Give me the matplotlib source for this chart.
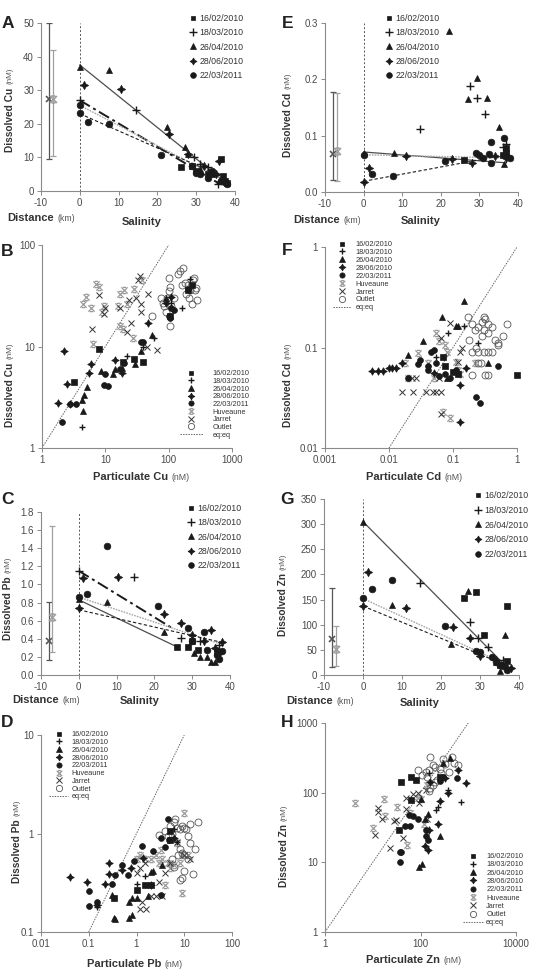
import numpy as np
import matplotlib
matplotlib.use('Agg')
import matplotlib.pyplot as plt
from matplotlib.lines import Line2D
from matplotlib.path import Path
from matplotlib.ticker import FixedLocator, FuncFormatter, NullLocator

plt.rcParams['font.family'] = ['Liberation Sans', 'DejaVu Sans']
plt.rcParams['axes.unicode_minus'] = False

W, H = 533, 971

# ---------------- data ----------------
dates = ['16/02/2010', '18/03/2010', '26/04/2010', '28/06/2010', '22/03/2011']
sources = ['Huveaune', 'Jarret', 'Outlet']

# Panel A : dissolved Cu vs salinity
A_s1 = [(26, 7), (29, 7.5), (30, 6), (33, 5), (36.5, 9.5), (37, 4.5), (37.5, 3), (38, 2.5)]
A_s2 = [(0, 27), (14.5, 24), (29.5, 10), (31, 8), (33, 7), (34.5, 5.5), (35.5, 2), (37, 3)]
A_s3 = [(0, 37), (7.5, 36), (22.5, 19), (27, 13), (28, 11), (31, 6.5), (34, 5), (36, 3)]
A_s4 = [(1.2, 31.5), (10.5, 30.5), (23, 17), (28, 11), (32, 7.5), (35, 5), (36, 9), (37, 3)]
A_s5 = [(0, 23.2), (0, 25.5), (2.2, 20.6), (7.5, 19.8), (21, 10.8), (29, 7.5), (30, 5.5), (31, 5),
        (33, 4), (34, 6), (36.5, 3), (38, 2)]
A_err_x = [-8, -7]
A_err_mean = [27.5, 27.5]
A_err_lo = [9.5, 10.5]
A_err_hi = [50, 42]
A_fit_b0 = [37.5, 27, 25.5, 23]
A_fit_b1 = [-0.93, -0.69, -0.6, -0.51]
A_fit_xmax = [37, 36, 38, 37]

# Panel E : dissolved Cd vs salinity
E_s1 = [(26, 0.056), (36, 0.065), (37, 0.078), (37, 0.07)]
E_s2 = [(14.5, 0.111), (27.5, 0.188), (29.5, 0.167), (31.5, 0.138), (36, 0.08), (37, 0.085)]
E_s3 = [(0, 0.07), (8, 0.07), (22, 0.286), (27, 0.165), (29.5, 0.202), (32, 0.166), (35, 0.115), (36.5, 0.05)]
E_s4 = [(0, 0.018), (1.3, 0.042), (11, 0.064), (23, 0.059), (28, 0.052), (34, 0.064), (37, 0.06)]
E_s5 = [(0, 0.065), (2.3, 0.032), (7.5, 0.029), (21, 0.055), (29, 0.07), (30, 0.065), (31, 0.06),
        (32.5, 0.068), (33, 0.088), (33, 0.052), (36.5, 0.095), (37, 0.065), (38, 0.06)]
E_err_x = [-8, -7]
E_err_mean = [0.067, 0.073]
E_err_lo = [0.022, 0.02]
E_err_hi = [0.178, 0.176]
E_fit_b0 = [0.071, 0.066, 0.019]
E_fit_b1 = [-0.00052, -0.00015, 0.00127]
E_fit_xmax = [37, 38, 37]

# Panel C : dissolved Pb vs salinity
C_s1 = [(26, 0.31), (29, 0.31), (30, 0.37), (31.5, 0.28), (36.5, 0.25)]
C_s2 = [(0, 1.15), (14.5, 1.08), (27, 0.41), (32, 0.38), (37, 0.33)]
C_s3 = [(0, 0.84), (7.5, 0.81), (22.5, 0.48), (30.5, 0.24), (32, 0.2), (34, 0.2), (35, 0.14), (36, 0.14)]
C_s4 = [(0, 0.74), (1.2, 1.07), (10.5, 1.08), (22.5, 0.67), (27, 0.57), (30, 0.44), (33, 0.38),
        (35, 0.5), (36, 0.3), (38, 0.36)]
C_s5 = [(0, 0.86), (2.2, 0.9), (7.5, 1.43), (21, 0.76), (29, 0.52), (30, 0.38), (33, 0.48), (34, 0.28),
        (36.5, 0.22), (37, 0.18), (37, 0.25), (38, 0.27)]
C_err_x = [-8, -7]
C_err_mean = [0.37, 0.64]
C_err_lo = [0.17, 0.25]
C_err_hi = [0.81, 1.64]
C_fit_b0 = [1.15, 0.83, 0.86, 0.72]
C_fit_b1 = [-0.0256, -0.02, -0.0138, -0.0095]
C_fit_xmax = [25, 26, 37, 38]

# Panel G : dissolved Zn vs salinity
G_s1 = [(26, 153), (29, 165), (31, 80), (35, 20), (37, 138), (37, 28)]
G_s2 = [(14.5, 182), (27.5, 105), (29.5, 73), (32, 55), (36, 30), (37, 15)]
G_s3 = [(0, 305), (7.5, 140), (22.5, 62), (27, 167), (34, 25), (35, 8), (36.5, 80)]
G_s4 = [(0, 137), (1.3, 205), (11, 134), (23, 95), (27.5, 74), (30, 38), (34, 30), (37, 13), (38, 14)]
G_s5 = [(0, 154), (2.3, 171), (7.5, 188), (21, 98), (29, 48), (30, 45), (33, 35), (34, 25), (35, 20),
        (36, 18), (37, 10)]
G_err_x = [-8, -7]
G_err_mean = [72, 52]
G_err_lo = [15, 17]
G_err_hi = [174, 97]
G_fit_b0 = [305, 152, 137]
G_fit_b1 = [-7.84, -3.57, -3.2]
G_fit_xmax = [37, 37, 37]

# Panel B : dissolved vs particulate Cu
B_s1 = [(3.2, 4.5), (8, 9.5), (19, 7), (28, 7.5), (40, 7), (105, 20), (200, 36), (230, 40)]
B_s2 = [(4.3, 1.6), (22, 8), (40, 10), (58, 12), (110, 27), (160, 24), (220, 46)]
B_s3 = [(4.3, 3.0), (4.5, 2.3), (4.6, 3.3), (5.2, 4), (8.5, 5.8), (13, 5.4), (14, 6), (18, 6.1),
        (29, 6.7), (37, 9), (55, 13), (90, 30)]
B_s4 = [(1.8, 2.8), (2.2, 9), (2.5, 4.3), (2.8, 2.7), (5.5, 5.5), (6, 6.7), (14, 7.4), (18, 5.5),
        (48, 17), (90, 27), (110, 31)]
B_s5 = [(2.1, 1.8), (2.8, 2.7), (3.4, 2.7), (9.5, 4.2), (10, 5.4), (11, 4.1), (17, 6), (20, 6.9),
        (36, 11), (40, 11), (100, 20), (105, 19), (110, 24), (120, 23), (200, 37)]
B_hu = [(4.5, 26), (5, 31), (6, 24), (6.5, 10.5), (7, 41), (8, 39), (9, 22), (9.5, 25), (16, 25),
        (17, 33), (17, 16), (19, 15), (20, 36), (22, 26), (27, 12), (28, 37), (38, 45)]
B_ja = [(6.2, 14.8), (8, 32), (9.5, 21), (10, 24), (17, 24), (22, 14), (24, 29), (25, 17), (30, 30),
        (33, 45), (35, 49), (36, 26), (36, 22), (45, 10), (47, 33), (65, 9.3)]
B_ou = [(55, 20), (75, 30), (80, 27), (85, 25), (90, 22), (95, 30), (100, 35), (105, 39), (100, 47),
        (105, 16), (110, 25), (120, 30), (140, 52), (150, 56), (170, 60), (160, 40), (180, 42),
        (190, 33), (200, 40), (210, 30), (220, 36), (230, 26), (240, 45), (250, 47), (260, 36),
        (270, 38), (280, 29)]

# Panel F : dissolved vs particulate Cd
F_s1 = [(0.07, 0.08), (0.075, 0.065), (0.1, 0.057), (0.12, 0.055), (1.0, 0.053)]
F_s2 = [(0.055, 0.08), (0.085, 0.14), (0.15, 0.165), (0.25, 0.11)]
F_s3 = [(0.02, 0.085), (0.034, 0.115), (0.068, 0.2), (0.11, 0.165), (0.12, 0.165), (0.15, 0.29),
        (0.08, 0.05), (0.35, 0.07)]
F_s4 = [(0.0055, 0.058), (0.0068, 0.058), (0.0081, 0.058), (0.01, 0.063), (0.011, 0.063),
        (0.013, 0.063), (0.016, 0.07), (0.05, 0.056), (0.13, 0.042), (0.13, 0.018), (0.16, 0.063)]
F_s5 = [(0.02, 0.05), (0.028, 0.068), (0.03, 0.075), (0.04, 0.06), (0.04, 0.065), (0.045, 0.09),
        (0.05, 0.095), (0.055, 0.07), (0.06, 0.052), (0.075, 0.055), (0.09, 0.05), (0.11, 0.06),
        (0.23, 0.032), (0.26, 0.028), (0.5, 0.065)]
F_hu = [(0.018, 0.07), (0.02, 0.05), (0.028, 0.088), (0.04, 0.07), (0.05, 0.05), (0.055, 0.14),
        (0.06, 0.115), (0.07, 0.023), (0.075, 0.106), (0.08, 0.09), (0.09, 0.02), (0.11, 0.072),
        (0.12, 0.06), (0.13, 0.055), (0.22, 0.07)]
F_ja = [(0.016, 0.036), (0.023, 0.05), (0.024, 0.036), (0.026, 0.05), (0.038, 0.036), (0.048, 0.036),
        (0.055, 0.036), (0.06, 0.05), (0.065, 0.036), (0.065, 0.125), (0.065, 0.022), (0.09, 0.175),
        (0.12, 0.072), (0.13, 0.09), (0.14, 0.1)]
F_ou = [(0.17, 0.2), (0.18, 0.12), (0.2, 0.17), (0.2, 0.09), (0.2, 0.053), (0.22, 0.15), (0.23, 0.1),
        (0.25, 0.16), (0.25, 0.09), (0.25, 0.07), (0.27, 0.07), (0.28, 0.18), (0.28, 0.13), (0.3, 0.2),
        (0.3, 0.15), (0.3, 0.09), (0.32, 0.19), (0.32, 0.053), (0.35, 0.17), (0.35, 0.14), (0.35, 0.09),
        (0.35, 0.053), (0.4, 0.16), (0.4, 0.09), (0.45, 0.12), (0.5, 0.11), (0.5, 0.105), (0.6, 0.13),
        (0.7, 0.17)]

# Panel D : dissolved vs particulate Pb
D_s1 = [(0.33, 0.22), (1, 0.27), (1.5, 0.3), (2, 0.3), (5, 0.85), (5, 1.05)]
D_s2 = [(0.15, 0.18), (1, 0.31), (1.5, 0.37), (6, 1.1), (7, 0.82)]
D_s3 = [(0.3, 0.24), (0.33, 0.14), (0.35, 0.135), (0.7, 0.2), (0.7, 0.14), (0.8, 0.15), (0.8, 0.22),
        (1, 0.22), (1.7, 0.23), (2, 0.41), (2.2, 0.42), (3.5, 0.48)]
D_s4 = [(0.04, 0.36), (0.09, 0.32), (0.15, 0.19), (0.22, 0.31), (0.27, 0.39), (0.27, 0.5), (0.5, 0.43),
        (0.75, 0.45), (1.4, 0.57), (2, 0.3), (6, 0.9)]
D_s5 = [(0.1, 0.26), (0.1, 0.185), (0.15, 0.2), (0.3, 0.31), (0.35, 0.38), (0.5, 0.48), (0.65, 0.38),
        (0.9, 0.52), (1.3, 0.75), (2.2, 0.67), (3.2, 0.24), (3.3, 0.9), (4, 0.73), (4.5, 1.4), (4.7, 0.86)]
D_hu = [(1, 0.55), (1.2, 0.6), (1.5, 0.55), (2, 0.55), (2.5, 0.6), (3, 0.5), (3.3, 0.68), (3.5, 0.55),
        (4, 0.3), (4.5, 0.5), (5, 0.45), (6, 0.48), (7, 0.8), (8, 0.5), (9, 0.25), (9, 0.62), (10, 1.6),
        (12, 0.6)]
D_ja = [(1, 0.4), (1.2, 0.17), (1.2, 0.45), (1.3, 0.2), (1.5, 0.5), (1.6, 0.17), (2, 0.23), (2.5, 0.23),
        (3, 0.32), (3.5, 0.23), (4, 0.4), (5, 0.5), (7, 0.82), (10, 0.6), (13, 0.55)]
D_ou = [(3, 0.97), (4, 1.05), (4.5, 0.95), (5, 1.2), (5.5, 1.0), (5.5, 0.55), (6, 1.3), (6, 0.46),
        (6.5, 1.4), (7, 1.15), (7.5, 0.6), (8, 1.1), (8, 0.7), (8, 0.34), (9, 1.2), (9, 0.63), (9, 0.35),
        (10, 1.15), (10, 0.6), (10, 0.42), (11, 1.1), (12, 0.95), (12, 0.55), (13, 1.25), (13, 0.8),
        (15, 0.39), (19, 1.3), (17, 0.7)]

# Panel H : dissolved vs particulate Zn
H_s1 = [(36, 29), (40, 140), (63, 167), (64, 79), (82, 153), (255, 170)]
H_s2 = [(150, 190), (215, 57), (235, 62), (380, 108), (710, 73)]
H_s3 = [(94, 8.7), (100, 80), (110, 9.6), (125, 42), (145, 50), (255, 24), (300, 270), (410, 315)]
H_s4 = [(125, 17), (145, 15), (150, 29), (157, 140), (235, 36), (255, 75), (320, 160), (380, 100),
        (610, 215), (900, 137)]
H_s5 = [(37, 14), (40, 14), (38, 10), (47, 33), (58, 48), (60, 33), (70, 46), (90, 42), (130, 24),
        (130, 29), (145, 21), (255, 145), (300, 170), (570, 160)]
H_hu = [(4.3, 71), (10, 31), (17, 82), (18, 46), (32, 62), (53, 18), (60, 51), (90, 85), (100, 80),
        (120, 35), (140, 130)]
H_ja = [(13, 60), (13, 52), (11, 25), (16, 42), (23, 16), (28, 39), (30, 41), (42, 22), (49, 84),
        (50, 58), (70, 95), (90, 100), (95, 72), (130, 110), (140, 42)]
H_ou = [(90, 210), (110, 180), (157, 320), (130, 200), (140, 170), (150, 210), (180, 250), (200, 230),
        (250, 220), (300, 300), (450, 330), (330, 260), (270, 190), (220, 150), (180, 130), (200, 140),
        (160, 115), (150, 105), (400, 200), (500, 270), (600, 250)]

# ---------------- styling ----------------
DARK = '#1a1a1a'
GRAY = '#9a9a9a'
SPINE = '#8a8a8a'
TXT = '#333333'
TICK_TXT = '#4a4a4a'

# x marker with small horizontal serifs (Huveaune)
SERIF_X = Path([(-1, -1), (1, 1), (-1, 1), (1, -1), (-0.55, 1), (0.55, 1), (-0.55, -1), (0.55, -1)],
               [Path.MOVETO, Path.LINETO, Path.MOVETO, Path.LINETO,
                Path.MOVETO, Path.LINETO, Path.MOVETO, Path.LINETO])

date_markers = ['s', '+', '^', (4, 1, 0), 'o']
date_ms_sal = [4.2, 6, 4.8, 6, 4.8]
date_ms_log = [3.8, 5, 4.2, 5.5, 4.2]

fig = plt.figure(figsize=(W / 100, H / 100), dpi=100)


def px_axes(l, r, t, b):
    return fig.add_axes([l / W, 1 - b / H, (r - l) / W, (b - t) / H])


def ftext(x, y, s, **kw):
    return fig.text(x / W, 1 - y / H, s, **kw)


def style_axes(ax):
    for s in ['top', 'right']:
        ax.spines[s].set_visible(False)
    for s in ['left', 'bottom']:
        ax.spines[s].set_color(SPINE)
        ax.spines[s].set_linewidth(0.8)
    ax.tick_params(direction='out', length=3, width=0.7, color=SPINE, labelsize=7,
                   labelcolor=TICK_TXT, pad=2)


def xy(points):
    a = np.array(points, dtype=float)
    return a[:, 0], a[:, 1]


def date_series_plot(ax, series, sizes):
    for pts, mk, ms in zip(series, date_markers, sizes):
        x, y = xy(pts)
        mew = 1.0 if mk == '+' else 0.5
        ax.plot(x, y, linestyle='none', marker=mk, ms=ms, color=DARK, mec=DARK, mew=mew,
                clip_on=False, zorder=4)


fit_styles = {
    'solid': dict(color='#4d4d4d', ls='-', lw=0.9),
    'dashdot': dict(color=DARK, ls=(0, (6, 2, 1.5, 2)), lw=1.4),
    'dotted': dict(color='#a8a8a8', ls=(0, (1.2, 0.8)), lw=1.0),
    'dashed': dict(color=DARK, ls=(0, (3, 2)), lw=0.8),
}


def salinity_panel(ax, series, err_x, err_mean, err_lo, err_hi, b0s, b1s, xmaxs, styles,
                   ylim, yticks, yfmt):
    style_axes(ax)
    ax.set_xlim(-10, 40)
    ax.set_ylim(*ylim)
    ax.xaxis.set_major_locator(FixedLocator([-10, 0, 10, 20, 30, 40]))
    ax.yaxis.set_major_locator(FixedLocator(yticks))
    ax.yaxis.set_major_formatter(FuncFormatter(lambda v, p: yfmt % v))
    ax.axvline(0, color='#555555', ls=(0, (2, 2)), lw=0.7, zorder=1)
    ecols = ['#555555', '#a0a0a0']
    emk = ['x', SERIF_X]
    for xe, m, lo, hi, c, mk in zip(err_x, err_mean, err_lo, err_hi, ecols, emk):
        ax.errorbar([xe], [m], yerr=[[m - lo], [hi - m]], fmt='none', ecolor=c,
                    elinewidth=0.9, capsize=2.5, capthick=0.9, zorder=3)
        ax.plot([xe], [m], ls='none', marker=mk, ms=5, mew=1.2, color=c, mfc='none', zorder=3)
    for b0, b1, xm, st in zip(b0s, b1s, xmaxs, styles):
        xs = np.array([0, xm], dtype=float)
        ax.plot(xs, b0 + b1 * xs, zorder=2, **fit_styles[st])
    date_series_plot(ax, series, date_ms_sal)


def log_panel(ax, series, hu, ja, ou, xlim, ylim, xticks, yticks):
    style_axes(ax)
    ax.set_xscale('log')
    ax.set_yscale('log')
    ax.set_xlim(*xlim)
    ax.set_ylim(*ylim)
    ax.xaxis.set_major_locator(FixedLocator(xticks))
    ax.yaxis.set_major_locator(FixedLocator(yticks))
    ax.xaxis.set_minor_locator(NullLocator())
    ax.yaxis.set_minor_locator(NullLocator())
    fmt = FuncFormatter(lambda v, p: '%g' % v)
    ax.xaxis.set_major_formatter(fmt)
    ax.yaxis.set_major_formatter(fmt)
    lo = max(xlim[0], ylim[0])
    hi = min(xlim[1], ylim[1])
    ax.plot([lo, hi], [lo, hi], color='#666666', ls=(0, (1.5, 1.2)), lw=0.7, zorder=1)
    x, y = xy(hu)
    ax.plot(x, y, ls='none', marker=SERIF_X, ms=4.5, mew=0.9, color=GRAY, mfc='none',
            zorder=3, clip_on=False)
    x, y = xy(ja)
    ax.plot(x, y, ls='none', marker='x', ms=4, mew=0.7, color='#333333', zorder=3, clip_on=False)
    x, y = xy(ou)
    ax.plot(x, y, ls='none', marker='o', ms=5, mew=0.6, mfc='none', mec='#555555', zorder=3,
            clip_on=False)
    date_series_plot(ax, series, date_ms_log)


def legend_sal(ax, left, top, spacing_px):
    handles = []
    for mk, ms in zip(date_markers, date_ms_sal):
        handles.append(Line2D([], [], ls='none', marker=mk, ms=ms * 0.85, color=DARK,
                              mew=1.0 if mk == '+' else 0.5))
    fs = 6.3
    fpx = fs * 100 / 72
    ax.legend(handles, dates, loc='upper left', bbox_to_anchor=(left / W, 1 - top / H),
              bbox_transform=fig.transFigure, frameon=False, borderpad=0, borderaxespad=0,
              handlelength=0.8, handletextpad=0.3, labelspacing=(spacing_px - fpx) / fpx,
              fontsize=fs, labelcolor=TXT)


def legend_log(ax, left, top, spacing_px, handlelen, pad):
    handles = []
    for mk, ms in zip(date_markers, date_ms_log):
        handles.append(Line2D([], [], ls='none', marker=mk, ms=ms * 0.9, color=DARK,
                              mew=1.0 if mk == '+' else 0.5))
    handles.append(Line2D([], [], ls='none', marker=SERIF_X, ms=4, mew=0.9, color=GRAY, mfc='none'))
    handles.append(Line2D([], [], ls='none', marker='x', ms=3.8, mew=0.7, color='#333333'))
    handles.append(Line2D([], [], ls='none', marker='o', ms=4.5, mew=0.6, mfc='none', mec='#555555'))
    handles.append(Line2D([], [], ls=(0, (1.5, 1.2)), lw=0.7, color='#666666'))
    labels = dates + sources + ['eq:eq']
    fs = 5.3
    fpx = fs * 100 / 72
    ax.legend(handles, labels, loc='upper left', bbox_to_anchor=(left / W, 1 - top / H),
              bbox_transform=fig.transFigure, frameon=False, borderpad=0, borderaxespad=0,
              handlelength=handlelen, handletextpad=pad, labelspacing=(spacing_px - fpx) / fpx,
              fontsize=fs, labelcolor=TXT)


def ylab(x, ybold, metal):
    t = ftext(x, ybold, 'Dissolved ' + metal, rotation=90, ha='center', va='bottom',
              weight='bold', size=7.3, color=TXT)
    fig.add_artist(matplotlib.text.Annotation('(nM)', xy=(0.5, 1.0), xycoords=t,
                                              xytext=(0.3, 2.5), textcoords='offset points',
                                              rotation=90, ha='center', va='bottom', size=5.8,
                                              color='#555555'))


def unit_after(t, s):
    fig.add_artist(matplotlib.text.Annotation(s, xy=(1.0, 0.5), xycoords=t,
                                              xytext=(2.5, -0.3), textcoords='offset points',
                                              ha='left', va='center', size=6.3, color='#555555'))


def xlab_sal(xd, yd, xs, ys):
    t = ftext(xd, yd, 'Distance', ha='left', va='center', weight='bold', size=8, color=TXT)
    unit_after(t, '(km)')
    ftext(xs, ys, 'Salinity', ha='left', va='center', weight='bold', size=8, color=TXT)


def xlab_log(x, y, metal):
    t = ftext(x, y, 'Particulate ' + metal, ha='left', va='center', weight='bold', size=8, color=TXT)
    unit_after(t, '(nM)')


# ---------------- panels ----------------
axA = px_axes(41, 235, 23, 191)
salinity_panel(axA, [A_s1, A_s2, A_s3, A_s4, A_s5], A_err_x, A_err_mean, A_err_lo, A_err_hi,
               A_fit_b0, A_fit_b1, A_fit_xmax, ['solid', 'dashdot', 'dotted', 'dashed'],
               (0, 50), [0, 10, 20, 30, 40, 50], '%g')
legend_sal(axA, 189.5, 14, 14)
ylab(10, 152, 'Cu')
xlab_sal(7, 218, 122, 222)

axE = px_axes(325, 518, 23, 192)
salinity_panel(axE, [E_s1, E_s2, E_s3, E_s4, E_s5], E_err_x, E_err_mean, E_err_lo, E_err_hi,
               E_fit_b0, E_fit_b1, E_fit_xmax, ['solid', 'dotted', 'dashed'],
               (0, 0.3), [0, 0.1, 0.2, 0.3], '%.1f')
legend_sal(axE, 385.5, 14, 14)
ylab(288, 157, 'Cd')
xlab_sal(293, 220, 401, 221)

axB = px_axes(42, 232, 245, 448)
log_panel(axB, [B_s1, B_s2, B_s3, B_s4, B_s5], B_hu, B_ja, B_ou, (1, 1000), (1, 100),
          [1, 10, 100, 1000], [1, 10, 100])
legend_log(axB, 180, 370, 7.9, 3.1, 1.3)
ylab(10, 427, 'Cu')
xlab_log(93, 477, 'Cu')

axF = px_axes(325, 517, 247, 448)
log_panel(axF, [F_s1, F_s2, F_s3, F_s4, F_s5], F_hu, F_ja, F_ou, (0.001, 1), (0.01, 1),
          [0.001, 0.01, 0.1, 1], [0.01, 0.1, 1])
legend_log(axF, 333, 241, 8.1, 2.5, 0.55)
ylab(288, 427, 'Cd')
xlab_log(366, 477, 'Cd')

axC = px_axes(41, 230, 512, 675)
salinity_panel(axC, [C_s1, C_s2, C_s3, C_s4, C_s5], C_err_x, C_err_mean, C_err_lo, C_err_hi,
               C_fit_b0, C_fit_b1, C_fit_xmax, ['dashdot', 'solid', 'dotted', 'dashed'],
               (0, 1.8), [0, 0.2, 0.4, 0.6, 0.8, 1.0, 1.2, 1.4, 1.6, 1.8], '%.1f')
legend_sal(axC, 187.5, 504, 14)
ylab(8, 640, 'Pb')
xlab_sal(12, 700, 120, 701)

axG = px_axes(324, 519, 499, 675)
salinity_panel(axG, [G_s1, G_s2, G_s3, G_s4, G_s5], G_err_x, G_err_mean, G_err_lo, G_err_hi,
               G_fit_b0, G_fit_b1, G_fit_xmax, ['solid', 'dotted', 'dashed'],
               (0, 350), [0, 50, 100, 150, 200, 250, 300, 350], '%g')
legend_sal(axG, 474.5, 491, 14.5)
ylab(283, 636, 'Zn')
xlab_sal(286, 701, 400, 703)

axD = px_axes(41, 232, 735, 932)
log_panel(axD, [D_s1, D_s2, D_s3, D_s4, D_s5], D_hu, D_ja, D_ou, (0.01, 100), (0.1, 10),
          [0.01, 0.1, 1, 10, 100], [0.1, 1, 10])
legend_log(axD, 49, 731, 8.0, 2.6, 0.45)
ylab(17, 883, 'Pb')
xlab_log(87, 964, 'Pb')

axH = px_axes(325, 516, 723, 932)
log_panel(axH, [H_s1, H_s2, H_s3, H_s4, H_s5], H_hu, H_ja, H_ou, (1, 10000), (1, 1000),
          [1, 100, 10000], [1, 10, 100, 1000])
legend_log(axH, 463, 853, 8.5, 2.7, 0.45)
ylab(284, 887, 'Zn')
xlab_log(366, 960, 'Zn')

# panel letters
for lab, (px, py) in zip('AEBFCGDH', [(7.5, 24), (288, 24), (7, 251), (287, 250),
                                      (7, 499), (287, 499), (7, 722), (287, 722)]):
    ftext(px, py, lab, ha='center', va='center', weight='bold', size=12.5, color='#222222')

fig.savefig('out.png', dpi=100)
